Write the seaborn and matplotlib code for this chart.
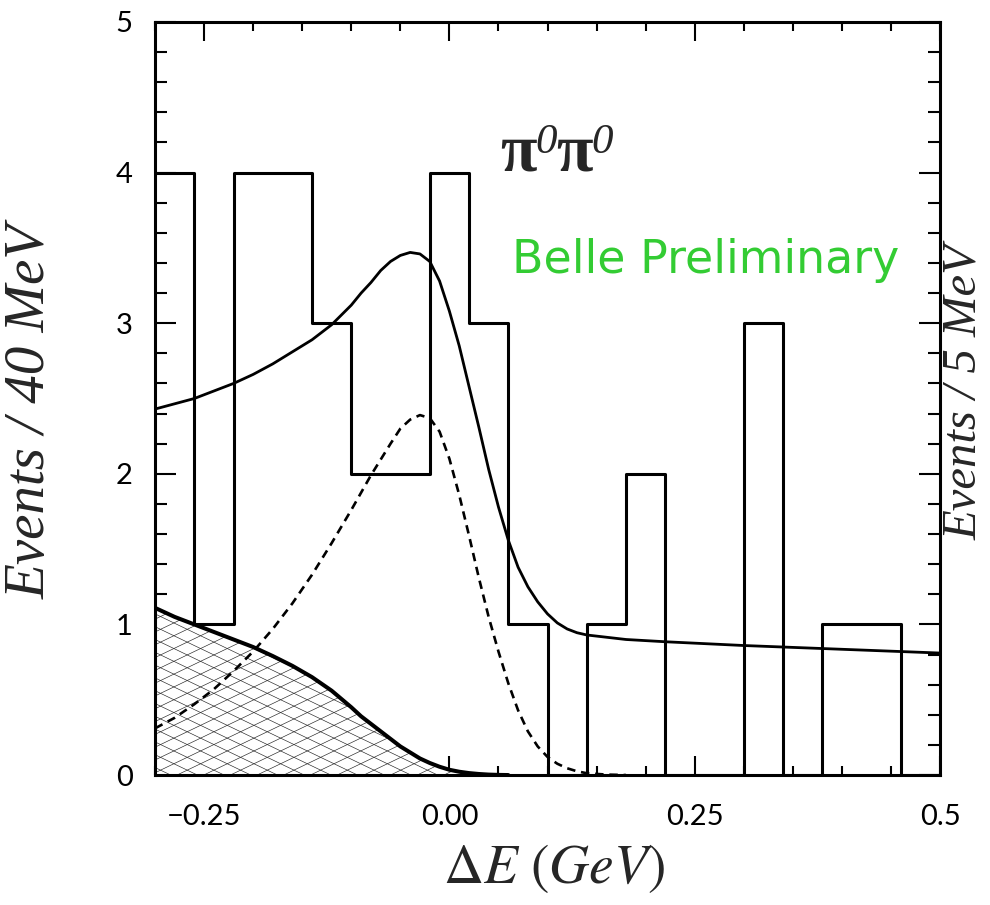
import numpy as np
import matplotlib
matplotlib.use("Agg")
import matplotlib.pyplot as plt
from matplotlib.collections import LineCollection
from matplotlib.ticker import MultipleLocator
import seaborn as sns

# --- data ---
# histogram, 40 MeV bins
bin_edges = [-0.30, -0.26, -0.22, -0.18, -0.14, -0.10, -0.06, -0.02, 0.02, 0.06,
             0.10, 0.14, 0.18, 0.22, 0.26, 0.30, 0.34, 0.38, 0.42, 0.46, 0.50]
counts = [4, 1, 4, 4, 3, 2, 2, 4, 3, 1, 0, 1, 2, 0, 0, 3, 0, 1, 1, 0]

# total fit (solid)
fit_x = [-0.30, -0.28, -0.26, -0.24, -0.22, -0.20, -0.18, -0.16, -0.14, -0.12,
         -0.10, -0.09, -0.08, -0.07, -0.06, -0.05, -0.04, -0.03, -0.02, -0.01,
         0.00, 0.01, 0.02, 0.03, 0.04, 0.05, 0.06, 0.07, 0.08, 0.09,
         0.10, 0.11, 0.12, 0.13, 0.14, 0.16, 0.18, 0.22, 0.30, 0.40, 0.50]
fit_y = [2.43, 2.465, 2.50, 2.55, 2.60, 2.66, 2.73, 2.81, 2.89, 2.99,
         3.12, 3.20, 3.27, 3.35, 3.41, 3.45, 3.47, 3.46, 3.41, 3.28,
         3.08, 2.85, 2.58, 2.31, 2.03, 1.78, 1.56, 1.38, 1.25, 1.15,
         1.07, 1.01, 0.97, 0.945, 0.93, 0.915, 0.90, 0.885, 0.86, 0.835, 0.81]

# signal component (dashed)
sig_x = [-0.30, -0.28, -0.26, -0.24, -0.22, -0.20, -0.18, -0.16, -0.14, -0.12,
         -0.10, -0.08, -0.06, -0.05, -0.04, -0.03, -0.02, -0.01, 0.00, 0.01,
         0.02, 0.03, 0.04, 0.05, 0.06, 0.07, 0.08, 0.09, 0.10, 0.11,
         0.12, 0.13, 0.14, 0.16, 0.18]
sig_y = [0.31, 0.38, 0.47, 0.57, 0.69, 0.82, 0.97, 1.14, 1.33, 1.54,
         1.76, 1.99, 2.20, 2.30, 2.36, 2.39, 2.37, 2.28, 2.10, 1.86,
         1.59, 1.31, 1.05, 0.82, 0.61, 0.43, 0.29, 0.19, 0.12, 0.075,
         0.045, 0.025, 0.012, 0.003, 0.0]

# B background (hatched)
bkg_x = [-0.30, -0.28, -0.26, -0.24, -0.22, -0.20, -0.18, -0.16, -0.14, -0.12,
         -0.10, -0.09, -0.08, -0.07, -0.06, -0.05, -0.04, -0.03, -0.02, -0.01,
         0.00, 0.01, 0.02, 0.03, 0.04, 0.05, 0.06]
bkg_y = [1.11, 1.05, 1.00, 0.95, 0.90, 0.85, 0.79, 0.725, 0.65, 0.56,
         0.45, 0.39, 0.34, 0.29, 0.24, 0.19, 0.15, 0.11, 0.08, 0.055,
         0.035, 0.022, 0.013, 0.007, 0.003, 0.001, 0.0]

x_ticks = [-0.25, 0.0, 0.25, 0.5]
x_ticklabels = ["\u22120.25", "0.00", "0.25", "0.5"]
y_ticks = [0, 1, 2, 3, 4, 5]

sns.set_theme(style="ticks")
plt.rcParams["mathtext.fontset"] = "stix"
plt.rcParams["axes.linewidth"] = 2.2

fig = plt.figure(figsize=(9.9, 9.05), dpi=100)
ax = fig.add_axes([0.1566, 0.1436, 0.7929, 0.8321])

# hatched background: white fill + shallow cross-hatch clipped to it
poly = ax.fill_between(bkg_x, bkg_y, 0, facecolor="white", linewidth=0, zorder=1)
segs = []
for c in np.arange(-1.0, 1.0, 0.017):
    segs.append([(0, c), (1, c + 0.5)])
    segs.append([(0, c + 0.5), (1, c)])
hatch = LineCollection(segs, colors="#222222", linewidths=0.45,
                       transform=ax.transAxes, zorder=1.5)
ax.add_collection(hatch, autolim=False)
hatch.set_clip_path(poly.get_paths()[0], poly.get_transform())

bin_centers = [(a + b) / 2 for a, b in zip(bin_edges[:-1], bin_edges[1:])]
sns.histplot(x=bin_centers, weights=counts, bins=bin_edges, element="step",
             fill=False, color="black", linewidth=2.2, ax=ax, zorder=3)

sns.lineplot(x=bkg_x, y=bkg_y, color="black", linewidth=2.9, sort=False,
             estimator=None, ax=ax, zorder=4)
sns.lineplot(x=sig_x, y=sig_y, color="black", linewidth=1.9, sort=False,
             estimator=None, linestyle=(0, (3.2, 2.2)), ax=ax, zorder=4)
sns.lineplot(x=fit_x, y=fit_y, color="black", linewidth=2.0, sort=False,
             estimator=None, ax=ax, zorder=4)

ax.set_xlim(-0.3, 0.5)
ax.set_ylim(0, 5)
ax.set_xticks(x_ticks, x_ticklabels)
ax.set_yticks(y_ticks, [str(v) for v in y_ticks])
ax.xaxis.set_minor_locator(MultipleLocator(0.05))
ax.yaxis.set_minor_locator(MultipleLocator(0.2))
ax.tick_params(which="both", direction="in", top=True, right=True,
               color="black", width=1.5)
ax.tick_params(axis="x", which="major", length=13.5, pad=21)
ax.tick_params(axis="x", which="minor", length=6.5)
ax.tick_params(axis="y", which="major", length=15, pad=16)
ax.tick_params(axis="y", which="minor", length=8.5)
for lab in ax.get_xticklabels() + ax.get_yticklabels():
    lab.set_fontfamily("Lato")
    lab.set_fontsize(21)
    lab.set_color("black")
for sp in ax.spines.values():
    sp.set_color("black")
    sp.set_linewidth(2.2)

ax.set_xlabel("")
ax.set_ylabel("")
ax.text(0.508, -0.123, r"$\Delta E\ (GeV)$", transform=ax.transAxes,
        fontsize=40, ha="center", va="center")
ax.text(-0.158, 0.483, "Events / 40 MeV", transform=ax.transAxes, rotation=90,
        fontsize=41, family="Liberation Serif", style="italic",
        ha="center", va="center")
ax.text(1.031, 0.509, "Events / 5 MeV", transform=ax.transAxes, rotation=90,
        fontsize=35, family="Liberation Serif", style="italic",
        ha="center", va="center")

# pi0 pi0 label: bold upright pi with italic superscript 0
serif = "Liberation Serif"
p1 = ax.text(0.44, 0.803, "\u03c0", transform=ax.transAxes, fontsize=48,
             family=serif, weight="bold", ha="left", va="baseline")
z1 = ax.annotate("0", xy=(0.95, 0.52), xycoords=p1, fontsize=31, family=serif,
                 style="italic", ha="left", va="baseline")
p2 = ax.annotate("\u03c0", xy=(1.0, 0.0), xycoords=(z1, p1), fontsize=48,
                 family=serif, weight="bold", ha="left", va="bottom")
ax.annotate("0", xy=(0.95, 0.52), xycoords=p2, fontsize=31, family=serif,
            style="italic", ha="left", va="baseline")

ax.text(0.455, 0.667, "Belle Preliminary", transform=ax.transAxes,
        color="#33cc33", fontsize=33, family="DejaVu Sans", va="baseline")

fig.savefig("out.png", dpi=100)
